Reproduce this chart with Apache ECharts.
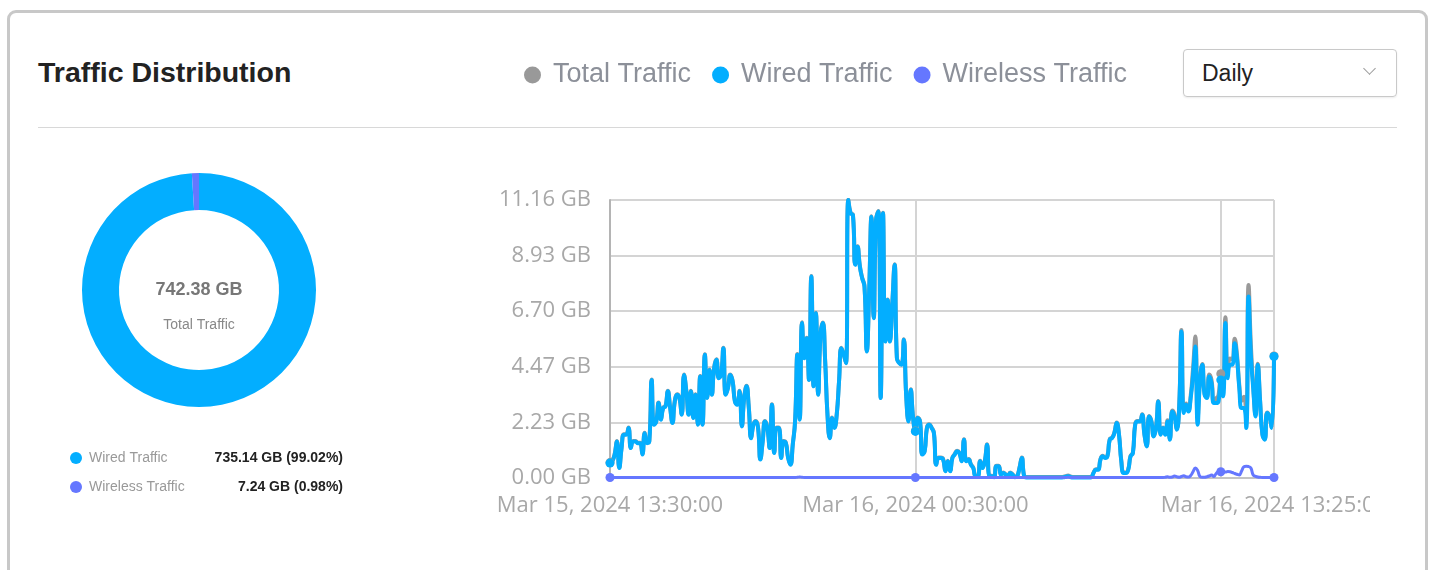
<!DOCTYPE html>
<html>
<head>
<meta charset="utf-8">
<title>Traffic Distribution</title>
<script src="https://cdn.jsdelivr.net/npm/echarts@6/dist/echarts.min.js"></script>
<style>
  html, body { margin: 0; padding: 0; background: #fff; overflow: hidden; }
  body { width: 1433px; height: 570px; position: relative; font-family: "Liberation Sans", Arial, sans-serif; }
  .card { position: absolute; left: 7px; top: 10px; width: 1421px; height: 620px; box-sizing: border-box;
          border: 3px solid #c8c8c8; border-radius: 9px; }
  .title { position: absolute; left: 38px; top: 58px; font-size: 28.5px; line-height: 28px; font-weight: bold; color: #222; }
  .sep { position: absolute; left: 38px; top: 127px; width: 1359px; height: 1px; background: #d8d8d8; }
  .select { position: absolute; left: 1183px; top: 49px; width: 214px; height: 48px; box-sizing: border-box;
            border: 1px solid #c9c9c9; border-radius: 4px; box-shadow: 0 1px 2px rgba(0,0,0,0.08);
            font-size: 23px; line-height: 46px; padding-left: 18px; color: #222; }
  .select .arrow { position: absolute; right: 22px; top: 14px; width: 8px; height: 8px;
                   border-right: 1.5px solid #9a9a9a; border-bottom: 1.5px solid #9a9a9a; transform: rotate(45deg); }
  #main { position: absolute; left: 0; top: 0; width: 1370px; height: 570px; }
</style>
</head>
<body>
<div class="card"></div>
<div class="title">Traffic Distribution</div>
<div class="sep"></div>
<div class="select">Daily<span class="arrow"></span></div>
<div id="main"></div>
<script>
  // 5-minute samples, Mar 15 2024 13:30 -> Mar 16 2024 13:25
  var start_time = new Date(2024, 2, 15, 13, 30, 0);
  var step_minutes = 5;
  var point_count = 288;

  var series_names = ['Total Traffic', 'Wired Traffic', 'Wireless Traffic'];
  var series_colors = ['#999999', '#03aeff', '#6577ff'];

  var pie_names = ['Wired Traffic', 'Wireless Traffic'];
  var pie_values = [735.14, 7.24];
  var pie_labels = ['735.14 GB (99.02%)', '7.24 GB (0.98%)'];
  var total_label = '742.38 GB';

  var y_max = 11.164;
  var y_interval = 2.2328;

  var wired = [
    0.60,0.67,0.94,1.47,0.40,1.20,1.74,1.74,2.01,1.20,
    1.47,1.47,1.40,1.40,0.94,1.80,1.40,1.47,3.94,2.14,
    2.27,3.01,2.34,2.81,2.87,3.48,2.81,2.21,3.07,3.34,
    3.21,2.54,4.14,3.48,2.54,3.48,2.41,3.34,2.14,4.08,
    2.14,4.95,3.21,4.34,3.34,4.41,4.75,4.01,4.14,5.21,
    3.34,3.61,4.14,3.88,3.07,2.94,3.48,2.07,3.21,3.68,
    2.81,1.60,2.14,2.27,2.01,0.74,1.47,2.27,2.01,1.20,
    2.94,1.00,2.01,2.01,0.80,1.47,1.40,0.80,0.53,1.34,
    2.27,4.95,2.34,6.22,4.81,5.61,3.94,8.09,3.68,6.62,
    3.34,5.75,6.22,4.68,2.54,1.60,2.41,2.01,2.54,3.88,
    5.21,4.95,4.61,11.16,10.63,10.56,8.56,9.29,8.49,8.02,
    7.69,5.08,7.42,10.49,6.42,10.36,10.70,3.21,10.63,5.48,
    7.15,5.48,6.95,8.56,4.81,4.61,4.55,5.55,3.34,2.27,
    3.54,2.41,1.87,2.41,2.27,0.94,1.07,2.01,2.14,2.01,
    1.80,0.53,0.80,0.80,0.74,0.27,0.67,0.27,0.80,0.94,
    1.07,1.00,0.67,1.54,0.67,0.74,0.53,0.40,0.07,0.07,
    0.67,0.40,0.67,1.34,0.07,0.07,0.03,0.47,0.47,0.13,
    0.20,0.13,0.07,0.20,0.13,0.03,0.07,0.40,0.80,0.07,
    0.02,0.02,0.02,0.02,0.02,0.02,0.02,0.02,0.02,0.02,
    0.02,0.02,0.02,0.02,0.02,0.02,0.03,0.05,0.07,0.04,
    0.02,0.02,0.02,0.02,0.02,0.02,0.02,0.02,0.03,0.20,
    0.33,0.33,0.74,0.87,0.80,0.87,1.54,1.60,1.80,2.21,
    1.74,0.67,0.20,0.20,0.33,0.87,1.00,2.14,2.27,2.27,
    2.54,1.74,1.27,2.47,2.27,1.67,2.01,3.07,1.74,2.01,
    1.74,2.27,1.54,2.67,2.47,1.94,2.81,5.88,2.61,2.94,
    2.67,3.21,4.14,5.28,2.14,3.88,4.55,3.34,3.21,4.08,
    3.81,3.01,3.01,3.07,3.94,3.28,6.22,4.01,4.55,4.55,
    5.41,4.81,3.61,2.81,2.81,2.01,7.29,4.95,3.61,2.47,
    4.55,3.07,1.74,1.54,2.61,2.47,2.01,4.88
  ];

  var wireless = [
    0.02,0.02,0.02,0.02,0.02,0.02,0.02,0.02,0.02,0.02,
    0.02,0.02,0.02,0.02,0.02,0.02,0.02,0.02,0.02,0.02,
    0.02,0.02,0.02,0.02,0.02,0.02,0.02,0.02,0.02,0.02,
    0.02,0.02,0.02,0.02,0.02,0.02,0.02,0.02,0.02,0.02,
    0.02,0.02,0.02,0.02,0.02,0.02,0.02,0.02,0.02,0.02,
    0.02,0.02,0.02,0.02,0.02,0.02,0.02,0.02,0.02,0.02,
    0.02,0.02,0.02,0.02,0.02,0.02,0.02,0.02,0.02,0.02,
    0.02,0.02,0.02,0.02,0.02,0.02,0.02,0.02,0.02,0.02,
    0.02,0.03,0.04,0.03,0.02,0.02,0.02,0.02,0.02,0.02,
    0.02,0.02,0.02,0.02,0.02,0.02,0.02,0.02,0.02,0.02,
    0.02,0.02,0.02,0.02,0.02,0.02,0.02,0.02,0.02,0.02,
    0.02,0.02,0.02,0.02,0.02,0.02,0.02,0.02,0.02,0.02,
    0.02,0.02,0.02,0.02,0.02,0.02,0.02,0.02,0.02,0.02,
    0.02,0.02,0.02,0.02,0.02,0.02,0.02,0.02,0.02,0.02,
    0.02,0.02,0.02,0.02,0.02,0.02,0.02,0.02,0.02,0.02,
    0.02,0.02,0.02,0.02,0.02,0.02,0.02,0.02,0.02,0.02,
    0.02,0.02,0.02,0.02,0.02,0.02,0.02,0.02,0.02,0.02,
    0.02,0.02,0.02,0.02,0.02,0.02,0.02,0.02,0.02,0.02,
    0.02,0.02,0.02,0.02,0.02,0.02,0.02,0.02,0.02,0.02,
    0.02,0.02,0.02,0.02,0.02,0.02,0.02,0.02,0.03,0.02,
    0.02,0.02,0.02,0.02,0.02,0.02,0.02,0.02,0.02,0.02,
    0.02,0.02,0.02,0.02,0.02,0.02,0.02,0.02,0.02,0.02,
    0.02,0.02,0.02,0.02,0.02,0.02,0.02,0.02,0.02,0.02,
    0.02,0.02,0.02,0.02,0.02,0.02,0.02,0.02,0.02,0.02,
    0.03,0.05,0.03,0.04,0.08,0.05,0.03,0.06,0.09,0.05,
    0.04,0.10,0.25,0.40,0.30,0.06,0.03,0.03,0.05,0.08,
    0.12,0.06,0.18,0.25,0.25,0.27,0.24,0.26,0.25,0.22,
    0.18,0.15,0.12,0.28,0.45,0.47,0.46,0.40,0.12,0.07,
    0.04,0.03,0.02,0.02,0.02,0.02,0.02,0.02
  ];

  var total = wired.map(function(v, i) {
    return +(v + wireless[i]).toFixed(2);
  });

  var month_names = ['Jan','Feb','Mar','Apr','May','Jun','Jul','Aug','Sep','Oct','Nov','Dec'];
  function pad(n) { return (n < 10 ? '0' : '') + n; }
  function formatTime(d) {
    return month_names[d.getMonth()] + ' ' + d.getDate() + ', ' + d.getFullYear() + ' ' +
      pad(d.getHours()) + ':' + pad(d.getMinutes()) + ':' + pad(d.getSeconds());
  }
  var categories = [];
  for (var k = 0; k < point_count; k++) {
    categories.push(formatTime(new Date(start_time.getTime() + k * step_minutes * 60000)));
  }

  var label_idx = [0, 132, point_count - 1];
  var split_idx = [0, 132, 264, point_count - 1];
  var symbol_idx = [0, 132, 264, point_count - 1];

  function lineSeries(name, data, color, width) {
    return {
      name: name,
      type: 'line',
      data: data,
      smooth: true,
      showAllSymbol: true,
      symbol: 'circle',
      symbolSize: function(val, params) {
        return symbol_idx.indexOf(params.dataIndex) >= 0 ? 9 : 0;
      },
      itemStyle: { color: color },
      lineStyle: { color: color, width: width },
      emphasis: { disabled: true }
    };
  }

  var my_chart = echarts.init(document.getElementById('main'));
  var option = {
    animation: false,
    color: series_colors,
    legend: [{
      data: series_names,
      left: 524,
      top: 60,
      padding: 0,
      icon: 'circle',
      itemWidth: 17,
      itemHeight: 17,
      itemGap: 21,
      selectedMode: false,
      textStyle: {
        fontFamily: 'Liberation Sans',
        fontSize: 27,
        lineHeight: 30,
        color: '#8c9099',
        padding: [0, 0, 0, 7]
      }
    }, {
      data: pie_names,
      orient: 'vertical',
      left: 70,
      top: 451,
      padding: 0,
      icon: 'circle',
      itemWidth: 12,
      itemHeight: 12,
      itemGap: 15,
      selectedMode: false,
      formatter: function(name) {
        return '{n|' + name + '}{v|' + pie_labels[pie_names.indexOf(name)] + '}';
      },
      textStyle: {
        padding: [0, 0, 0, 2],
        rich: {
          n: { width: 121, fontFamily: 'Liberation Sans', fontSize: 14, lineHeight: 16, color: '#999' },
          v: { width: 133, align: 'right', fontFamily: 'Liberation Sans', fontSize: 14, lineHeight: 16,
               fontWeight: 'bold', color: '#222' }
        }
      }
    }],
    graphic: [{
      type: 'text',
      style: { text: total_label, x: 199, y: 290, align: 'center', verticalAlign: 'middle',
               font: 'bold 18px "Liberation Sans"', fill: '#777' }
    }, {
      type: 'text',
      style: { text: 'Total Traffic', x: 199, y: 325, align: 'center', verticalAlign: 'middle',
               font: '14px "Liberation Sans"', fill: '#888' }
    }],
    grid: { left: 610, top: 200, width: 664, height: 278, outerBoundsMode: 'none', containLabel: false },
    xAxis: {
      type: 'category',
      data: categories,
      boundaryGap: false,
      axisLine: { show: true, lineStyle: { color: '#c4c4c4', width: 2 } },
      axisTick: { show: false },
      axisLabel: {
        interval: function(index) { return label_idx.indexOf(index) >= 0; },
        margin: 17,
        fontFamily: 'Open Sans',
        fontSize: 22,
        color: '#a8a8a8'
      },
      splitLine: {
        show: true,
        interval: function(index) { return split_idx.indexOf(index) >= 0; },
        lineStyle: { color: '#d4d4d4', width: 2 }
      }
    },
    yAxis: {
      type: 'value',
      min: 0,
      max: y_max,
      interval: y_interval,
      axisLine: { show: true, lineStyle: { color: '#b4b4b4', width: 2 } },
      axisTick: { show: false },
      axisLabel: {
        margin: 19,
        fontFamily: 'Open Sans',
        fontSize: 22,
        color: '#a8a8a8',
        formatter: function(v) { return v.toFixed(2) + ' GB'; }
      },
      splitLine: { lineStyle: { color: '#d4d4d4', width: 2 } }
    },
    series: [
      lineSeries(series_names[0], total, series_colors[0], 4),
      lineSeries(series_names[1], wired, series_colors[1], 4),
      lineSeries(series_names[2], wireless, series_colors[2], 3),
      {
        type: 'pie',
        center: [199, 290],
        radius: [80, 117],
        label: { show: false },
        labelLine: { show: false },
        emphasis: { disabled: true },
        silent: true,
        data: pie_names.map(function(n, i) {
          return { name: n, value: pie_values[i], itemStyle: { color: series_colors[i + 1] } };
        })
      }
    ]
  };
  my_chart.setOption(option);
</script>
</body>
</html>
